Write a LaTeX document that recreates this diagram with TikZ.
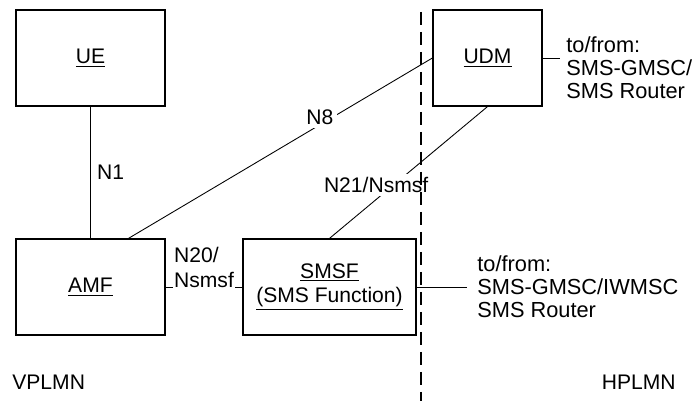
\documentclass[tikz,border=0pt]{standalone}
\usepackage{fontspec}
\setmainfont{Liberation Sans}
\usepackage{tikz}
\usetikzlibrary{positioning}

\begin{document}
\begin{tikzpicture}[
    x=0.02cm, y=-0.02cm,
    font=\fontsize{12}{14}\selectfont,
    nf/.style={draw, line width=0.7pt, minimum height=1.92cm, align=center, inner sep=1pt},
    lnk/.style={line width=0.5pt},
    lbl/.style={fill=white, inner sep=1pt},
    ext/.style={align=left, anchor=west, inner sep=0pt, font=\fontsize{12.4}{13.2}\selectfont},
    border/.style={line width=0.7pt, dash pattern=on 0.26cm off 0.14cm}
]
\useasboundingbox (0,0) rectangle (692,401);
\node[nf, minimum width=2.98cm] (ue) at (90.5,58) {\underline{UE}};
\node[nf, minimum width=2.98cm] (amf) at (90.5,287) {\underline{AMF}};
\node[nf, minimum width=3.46cm] (smsf) at (329.5,287) {\underline{SMSF}\\\underline{(SMS Function)}};
\node[nf, minimum width=2.18cm] (udm) at (487.5,58) {\underline{UDM}};
\node[ext] (udmext) at (566,68) {to/from:\\SMS-GMSC/\\SMS Router};
\node[ext] (smsfext) at (477,287) {to/from:\\SMS-GMSC/IWMSC\\SMS Router};
\node[anchor=west, inner sep=0pt] (vplmn) at (12,382) {VPLMN};
\node[anchor=east, inner sep=0pt] (hplmn) at (676,382) {HPLMN};
\coordinate (bt) at (421,12);
\coordinate (bb) at (421,401);

\draw[lnk] (ue) -- node[lbl, right=0.09cm] {N1} (amf);
\draw[lnk] (amf.52) -- node[lbl, pos=0.63, yshift=0.16cm, inner sep=2pt] {N8} (udm.west);
\draw[lnk] (udm.south) -- node[lbl, pos=0.594, xshift=-0.35cm, inner sep=2pt] {N21/Nsmsf} (smsf.north);
\draw[lnk] (amf) -- node[lbl, align=left, anchor=south, yshift=-0.06cm, inner xsep=0.5pt] {N20/\\Nsmsf} (smsf);
\draw[lnk] (udm.east) -- ([xshift=-0.12cm]udm.east -| udmext.west);
\draw[lnk] (smsf.east) -- ([xshift=-0.2cm]smsfext.west);
\draw[border] (bt) -- (bb);
\end{tikzpicture}
\end{document}
